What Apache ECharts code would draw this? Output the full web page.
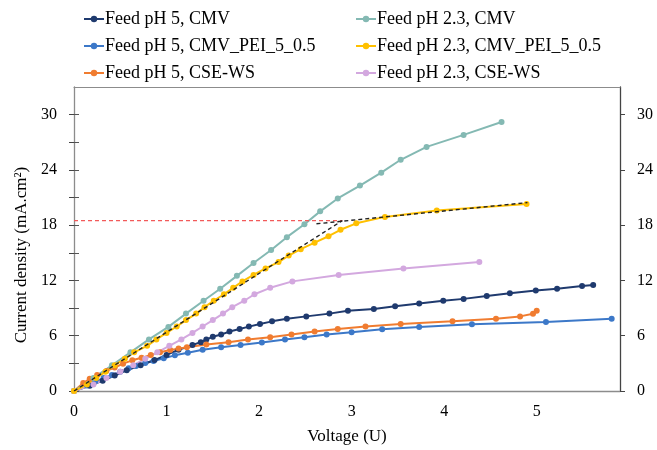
<!DOCTYPE html>
<html>
<head>
<meta charset="utf-8">
<script src="https://cdn.jsdelivr.net/npm/echarts@6/dist/echarts.min.js"></script>
<style>
  html, body { margin: 0; padding: 0; background: #fff; }
  #chart { width: 657px; height: 450px; }
</style>
</head>
<body>
<div id="chart"></div>
<script>
// Polarisation curves: current density vs applied voltage
const names = [
  'Feed pH 5, CMV',
  'Feed pH 5, CMV_PEI_5_0.5',
  'Feed pH 5, CSE-WS',
  'Feed pH 2.3, CMV',
  'Feed pH 2.3, CMV_PEI_5_0.5',
  'Feed pH 2.3, CSE-WS'
];

// Feed pH 5, CMV
const vCmv5 = [0, 0.17, 0.31, 0.44, 0.57, 0.72, 0.87, 1.0, 1.13, 1.28, 1.37, 1.43, 1.50, 1.59, 1.68, 1.79, 1.89, 2.01, 2.14, 2.30, 2.51, 2.76, 2.96, 3.24, 3.47, 3.73, 3.99, 4.21, 4.46, 4.71, 4.99, 5.22, 5.49, 5.61];
const jCmv5 = [0, 0.56, 1.12, 1.68, 2.24, 2.8, 3.36, 3.92, 4.48, 5.0, 5.3, 5.6, 5.88, 6.13, 6.45, 6.74, 6.99, 7.28, 7.56, 7.85, 8.1, 8.4, 8.7, 8.9, 9.2, 9.5, 9.8, 10.0, 10.3, 10.6, 10.9, 11.1, 11.4, 11.5];

// Feed pH 5, CMV_PEI_5_0.5
const vPei5 = [0, 0.14, 0.23, 0.32, 0.41, 0.50, 0.59, 0.67, 0.77, 0.86, 0.97, 1.09, 1.23, 1.39, 1.59, 1.80, 2.03, 2.28, 2.49, 2.73, 3.00, 3.33, 3.73, 4.30, 5.10, 5.81];
const jPei5 = [0, 0.6, 1.04, 1.4, 1.75, 2.1, 2.47, 2.72, 3.04, 3.26, 3.55, 3.87, 4.15, 4.47, 4.76, 5.0, 5.27, 5.6, 5.84, 6.13, 6.38, 6.7, 6.95, 7.24, 7.5, 7.85];

// Feed pH 5, CSE-WS
const vCse5 = [0, 0.10, 0.17, 0.25, 0.35, 0.44, 0.53, 0.63, 0.73, 0.83, 0.93, 1.04, 1.13, 1.22, 1.43, 1.67, 1.88, 2.12, 2.35, 2.60, 2.85, 3.15, 3.53, 4.09, 4.56, 4.82, 4.96, 5.00];
const jCse5 = [0, 0.86, 1.32, 1.75, 2.18, 2.55, 2.97, 3.33, 3.6, 3.9, 4.2, 4.44, 4.6, 4.76, 5.05, 5.3, 5.6, 5.84, 6.13, 6.45, 6.74, 6.99, 7.28, 7.56, 7.85, 8.1, 8.39, 8.7];

// Feed pH 2.3, CMV
const vCmv23 = [0, 0.21, 0.41, 0.61, 0.81, 1.02, 1.21, 1.40, 1.58, 1.76, 1.94, 2.13, 2.30, 2.49, 2.66, 2.85, 3.09, 3.32, 3.53, 3.81, 4.21, 4.62];
const jCmv23 = [0, 1.4, 2.8, 4.2, 5.6, 6.96, 8.4, 9.8, 11.1, 12.5, 13.9, 15.3, 16.7, 18.1, 19.5, 20.9, 22.3, 23.7, 25.1, 26.5, 27.8, 29.2];

// Feed pH 2.3, CMV_PEI_5_0.5
const vPei23 = [0, 0.14, 0.24, 0.34, 0.44, 0.55, 0.65, 0.79, 0.89, 1.00, 1.11, 1.21, 1.32, 1.41, 1.51, 1.62, 1.72, 1.82, 1.94, 2.07, 2.21, 2.32, 2.45, 2.60, 2.75, 2.88, 3.05, 3.36, 3.92, 4.89];
const jPei23 = [0, 0.7, 1.4, 2.1, 2.8, 3.5, 4.2, 4.9, 5.6, 6.3, 7.0, 7.7, 8.4, 9.1, 9.8, 10.5, 11.2, 11.9, 12.6, 13.3, 14.0, 14.7, 15.4, 16.1, 16.8, 17.5, 18.2, 18.9, 19.6, 20.3];

// Feed pH 2.3, CSE-WS
const vCse23 = [0, 0.21, 0.35, 0.50, 0.64, 0.77, 0.90, 1.03, 1.16, 1.28, 1.39, 1.50, 1.61, 1.71, 1.84, 1.95, 2.12, 2.36, 2.86, 3.56, 4.38];
const jCse23 = [0, 0.7, 1.4, 2.1, 2.8, 3.5, 4.2, 4.9, 5.6, 6.3, 7.0, 7.7, 8.4, 9.1, 9.8, 10.5, 11.2, 11.9, 12.6, 13.3, 14.0];

// Limiting-current construction lines
const ohmicV = [0, 2.9];
const ohmicJ = [0, 18.5];
const plateauV = [2.62, 4.9];
const plateauJ = [18.15, 20.45];
const limitV = [0, 2.9];
const limitJ = [18.5, 18.5];

const yTicks = [0, 6, 12, 18, 24, 30];
const yMinorTicks = [0, 3, 6, 9, 12, 15, 18, 21, 24, 27, 30];
const xTicks = [0, 1, 2, 3, 4, 5];

const colors = ['#1f3a6e', '#3c78c8', '#f07c30', '#84b9b3', '#ffc000', '#d3a8df'];
const serif = 'Liberation Serif';

function zip(xs, ys) { return xs.map((x, i) => [x, ys[i]]); }

const curveData = [
  zip(vCmv5, jCmv5), zip(vPei5, jPei5), zip(vCse5, jCse5),
  zip(vCmv23, jCmv23), zip(vPei23, jPei23), zip(vCse23, jCse23)
];

// drawing order (later on top)
const drawOrder = [1, 0, 2, 3, 5, 4];
const curveSeries = drawOrder.map(i => ({
  name: names[i],
  type: 'line',
  data: curveData[i],
  symbol: 'circle',
  symbolSize: 6,
  showSymbol: true,
  color: colors[i],
  lineStyle: { width: 2, color: colors[i] },
  itemStyle: { color: colors[i] },
  emphasis: { disabled: true },
  animation: false,
  z: 3
}));

function guide(xs, ys, color) {
  return {
    type: 'line',
    data: zip(xs, ys),
    symbol: 'none',
    lineStyle: { width: 1.4, type: [4, 3], color: color },
    emphasis: { disabled: true },
    silent: true,
    animation: false,
    z: 5
  };
}

const yBase = {
  type: 'value', min: 0, max: 33,
  splitLine: { show: false },
  axisLine: { show: true, onZero: false }
};

const legendText = { fontFamily: serif, fontSize: 18, color: '#000', padding: [0, 0, 0, -4] };

const option = {
  backgroundColor: '#fff',
  animation: false,
  grid: { left: 74, right: 37, top: 87, bottom: 57, containLabel: false },
  legend: [
    {
      data: names.slice(0, 3), orient: 'vertical', left: 78, top: 5,
      itemWidth: 20, itemHeight: 8, itemGap: 9,
      textStyle: legendText
    },
    {
      data: names.slice(3), orient: 'vertical', left: 350, top: 5,
      itemWidth: 20, itemHeight: 8, itemGap: 9,
      textStyle: legendText
    }
  ],
  xAxis: [
    {
      type: 'value', min: 0, max: 5.9, interval: 1,
      name: 'Voltage (U)', nameLocation: 'middle', nameGap: 37,
      nameTextStyle: { fontFamily: serif, fontSize: 17, color: '#000' },
      axisLine: { show: true, onZero: false, lineStyle: { color: '#8c8c8c', width: 1.3 } },
      axisTick: { show: false },
      axisLabel: {
        customValues: xTicks, margin: 13,
        fontFamily: serif, fontSize: 16, color: '#000'
      },
      splitLine: { show: false }
    },
    {
      type: 'value', min: 0, max: 5.9, position: 'top',
      axisLine: { show: true, onZero: false, lineStyle: { color: '#8c8c8c', width: 1 } },
      axisTick: { show: false }, axisLabel: { show: false }, splitLine: { show: false }
    }
  ],
  yAxis: [
    Object.assign({}, yBase, {
      position: 'left',
      axisLine: { show: true, onZero: false, lineStyle: { color: '#8c8c8c', width: 1.3 } },
      axisTick: { show: true, customValues: yTicks, inside: false, length: 5, lineStyle: { color: '#555' } },
      axisLabel: { customValues: yTicks, margin: 17, fontFamily: serif, fontSize: 16, color: '#000' }
    }),
    Object.assign({}, yBase, {
      position: 'left',
      axisLine: { show: false },
      axisTick: { show: true, customValues: yMinorTicks, inside: true, length: 5, lineStyle: { color: '#555' } },
      axisLabel: { show: false }
    }),
    Object.assign({}, yBase, {
      position: 'right',
      axisLine: { show: true, onZero: false, lineStyle: { color: '#444', width: 1.3 } },
      axisTick: { show: true, customValues: yTicks, inside: false, length: 5, lineStyle: { color: '#444' } },
      axisLabel: { customValues: yTicks, margin: 17, fontFamily: serif, fontSize: 16, color: '#000' }
    }),
    Object.assign({}, yBase, {
      position: 'right',
      axisLine: { show: false },
      axisTick: { show: true, customValues: yMinorTicks, inside: true, length: 5, lineStyle: { color: '#444' } },
      axisLabel: { show: false }
    })
  ],
  graphic: [
    {
      type: 'text', x: 22, y: 255, rotation: Math.PI / 2,
      style: {
        text: 'Current density (mA.cm²)',
        font: '17px "Liberation Serif"', fill: '#000',
        align: 'center', verticalAlign: 'middle'
      }
    }
  ],
  series: curveSeries.concat([
    guide(limitV, limitJ, '#f25a5a'),
    guide(ohmicV, ohmicJ, '#222'),
    guide(plateauV, plateauJ, '#222')
  ])
};

const chart = echarts.init(document.getElementById('chart'), null, { renderer: 'canvas' });
chart.setOption(option);
</script>
</body>
</html>
